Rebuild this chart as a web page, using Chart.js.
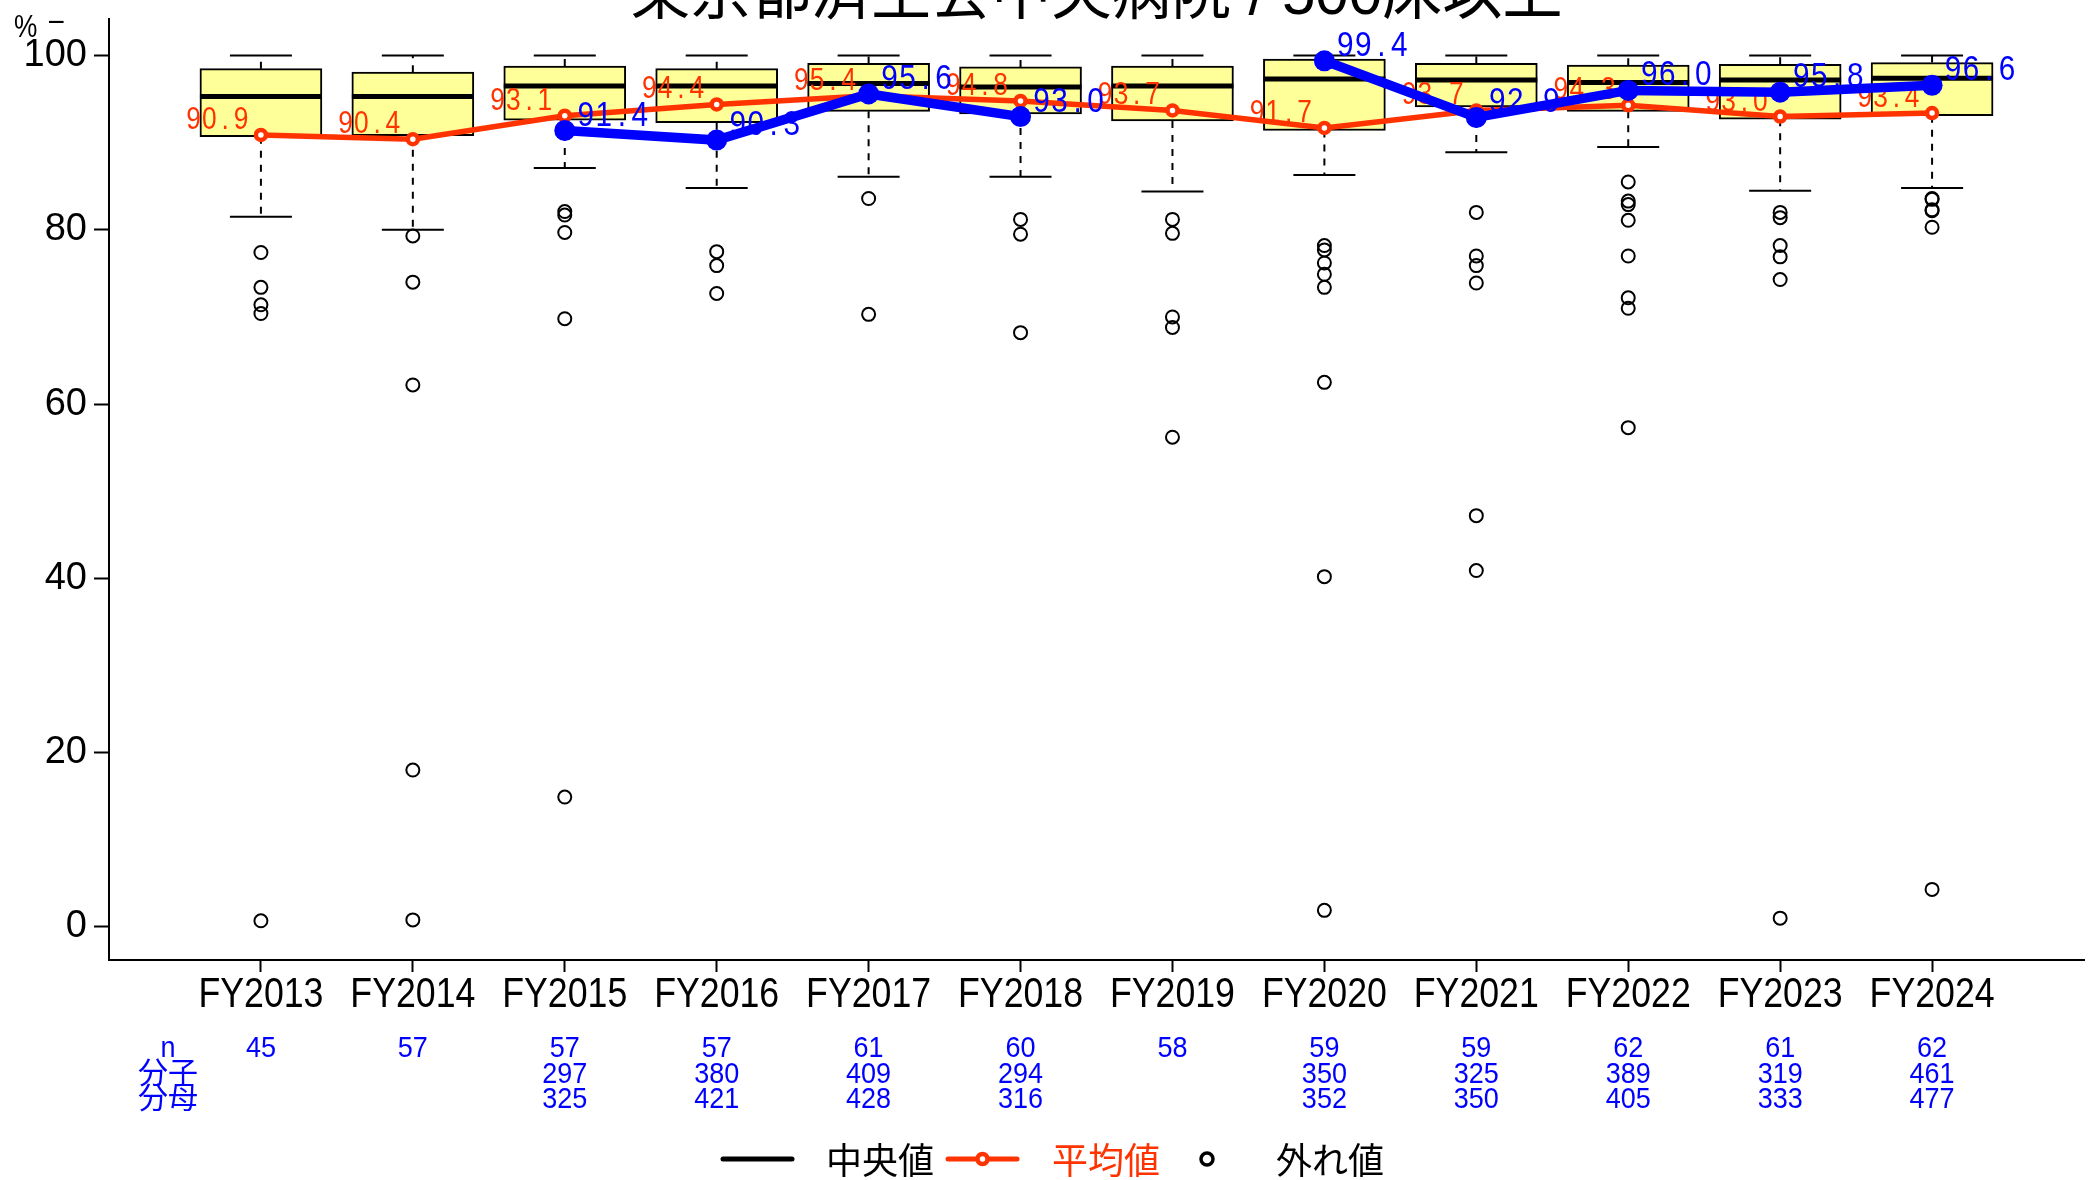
<!DOCTYPE html>
<html>
<head>
<meta charset="utf-8">
<script src="https://cdn.jsdelivr.net/npm/chart.js@4.4.1/dist/chart.umd.min.js"></script>
<style>
  html, body { margin: 0; padding: 0; background: #fff; }
</style>
</head>
<body>
<canvas id="boxChart" width="2089" height="1180"></canvas>
<script>
const years = ["FY2013", "FY2014", "FY2015", "FY2016", "FY2017", "FY2018", "FY2019", "FY2020", "FY2021", "FY2022", "FY2023", "FY2024"];
const upperWhisker = [100, 100, 100, 100, 100, 100, 100, 100, 100, 100, 100, 100];
const upperQuartile = [98.5, 98.1, 98.8, 98.5, 99.1, 98.7, 98.8, 99.6, 99.1, 98.9, 99.0, 99.2];
const medianValues = [95.3, 95.3, 96.5, 96.5, 96.8, 96.4, 96.5, 97.3, 97.2, 96.9, 97.2, 97.4];
const lowerQuartile = [90.7, 90.8, 92.6, 92.3, 93.6, 93.3, 92.5, 91.4, 94.1, 93.6, 92.7, 93.1];
const lowerWhisker = [81.5, 80.0, 87.1, 84.8, 86.1, 86.1, 84.4, 86.3, 88.9, 89.5, 84.5, 84.8];
const outlierValues = [
    [77.4, 73.4, 71.4, 70.4, 0.7],
    [79.3, 74.0, 62.2, 18.0, 0.8],
    [82.1, 81.7, 79.7, 69.8, 14.9],
    [77.5, 75.9, 72.7],
    [83.6, 70.3],
    [81.2, 79.5, 68.2],
    [81.2, 79.6, 70.0, 68.8, 56.2],
    [78.2, 77.7, 76.2, 74.9, 73.4, 62.5, 40.2, 1.9],
    [82.0, 77.0, 75.9, 73.9, 47.2, 40.9],
    [85.5, 83.3, 82.9, 81.1, 77.0, 72.2, 71.0, 57.3],
    [82.0, 81.4, 78.2, 76.9, 74.3, 1.0],
    [83.6, 83.5, 82.3, 82.2, 80.3, 4.3]
];
const meanValues = [90.9, 90.4, 93.1, 94.4, 95.4, 94.8, 93.7, 91.7, 93.7, 94.3, 93.0, 93.4];
const rateValues = [null, null, 91.4, 90.3, 95.6, 93.0, null, 99.4, 92.9, 96.0, 95.8, 96.6];
const nCounts = [45, 57, 57, 57, 61, 60, 58, 59, 59, 62, 61, 62];
const numerators = [null, null, 297, 380, 409, 294, null, 350, 325, 389, 319, 461];
const denominators = [null, null, 325, 421, 428, 316, null, 352, 350, 405, 333, 477];
const yTicks = [0, 20, 40, 60, 80, 100];

const titleText = "東京都済生会中央病院 / 500床以上";
const SANS = '"Liberation Sans", Arial, sans-serif';
const TITLE_FONT = '"Liberation Sans", "Noto Sans CJK JP", sans-serif';
const CJK = '"Noto Sans CJK JP", sans-serif';
const RED = "#ff3300";
const BLUE = "#0000ff";

// whisker stems: q3 -> top, q1 -> bottom, null breaks the line
let stemPoints = [];
years.forEach((_, i) => {
    stemPoints.push({ x: i + 1, y: upperQuartile[i] }, { x: i + 1, y: upperWhisker[i] }, { x: i + 1, y: null });
    stemPoints.push({ x: i + 1, y: lowerQuartile[i] }, { x: i + 1, y: lowerWhisker[i] }, { x: i + 1, y: null });
});
let capPoints = years.map((_, i) => ({ x: i + 1, y: upperWhisker[i] }))
    .concat(years.map((_, i) => ({ x: i + 1, y: lowerWhisker[i] })));
let outlierPoints = [];
outlierValues.forEach((vals, i) => vals.forEach(v => outlierPoints.push({ x: i + 1, y: v })));

// the reference uses a narrow face, so squeeze text horizontally
function narrowText(ctx, str, x, y, sx, align) {
    ctx.save();
    ctx.translate(x, y);
    ctx.scale(sx, 1);
    ctx.textAlign = align;
    ctx.fillText(str, 0, 0);
    ctx.restore();
}

// value labels are spaced in fixed cells
function cellText(ctx, str, x, y, cell, sx, alignRight) {
    let start = alignRight ? x - cell * str.length : x;
    for (let k = 0; k < str.length; k++) {
        narrowText(ctx, str[k], start + cell * (k + 0.5), y, sx, "center");
    }
}

const extras = {
    id: "extras",
    afterDatasetDraw(chart, args) {
        let ds = chart.data.datasets[args.index];
        let ctx = chart.ctx;
        if (ds.label !== "mean" && ds.label !== "rate") return;
        let isMean = ds.label === "mean";
        ctx.save();
        ctx.fillStyle = isMean ? RED : BLUE;
        ctx.font = (isMean ? "31px " : "35px ") + SANS;
        ctx.textBaseline = "alphabetic";
        args.meta.data.forEach((pt, i) => {
            let v = isMean ? meanValues[i] : rateValues[i];
            if (v == null) return;
            if (isMean) cellText(ctx, v.toFixed(1), pt.x - 12, pt.y - 6, 15.8, 0.85, true);
            else cellText(ctx, v.toFixed(1), pt.x + 12, pt.y - 5, 18, 0.85, false);
        });
        ctx.restore();
    },
    afterDraw(chart) {
        let ctx = chart.ctx;
        let area = chart.chartArea;
        let xs = chart.scales.x;
        ctx.save();

        // title (top cut off, as in the reference)
        ctx.fillStyle = "#000";
        ctx.font = "62px " + TITLE_FONT;
        ctx.textBaseline = "alphabetic";
        narrowText(ctx, titleText, (area.left + area.right) / 2, 14, 0.97, "center");

        // unit label
        ctx.font = "32px " + SANS;
        narrowText(ctx, "%", 14, 37, 0.82, "left");
        ctx.textBaseline = "middle";
        narrowText(ctx, "–", 49, 21, 0.82, "left");

        // category labels under the axis
        ctx.textBaseline = "alphabetic";
        ctx.font = "43px " + SANS;
        years.forEach((label, i) => {
            narrowText(ctx, label, xs.getPixelForValue(i + 1), 1007, 0.83, "center");
        });

        // n / numerator / denominator rows
        ctx.fillStyle = BLUE;
        let rows = [nCounts, numerators, denominators];
        let rowY = [1057, 1083, 1108];
        ctx.font = "30px " + SANS;
        narrowText(ctx, "n", 168, rowY[0], 0.9, "center");
        ctx.font = "30px " + CJK;
        ctx.textAlign = "center";
        ctx.fillText("分子", 168, rowY[1]);
        ctx.fillText("分母", 168, rowY[2]);
        ctx.font = "30px " + SANS;
        rows.forEach((row, r) => {
            row.forEach((v, i) => {
                if (v == null) return;
                narrowText(ctx, String(v), xs.getPixelForValue(i + 1), rowY[r], 0.9, "center");
            });
        });

        // legend
        let ly = 1159;
        ctx.lineCap = "round";
        ctx.strokeStyle = "#000";
        ctx.lineWidth = 5;
        ctx.beginPath(); ctx.moveTo(723, ly); ctx.lineTo(792, ly); ctx.stroke();
        ctx.strokeStyle = RED;
        ctx.lineWidth = 5;
        ctx.beginPath(); ctx.moveTo(948, ly); ctx.lineTo(1017, ly); ctx.stroke();
        ctx.fillStyle = "#fff";
        ctx.lineWidth = 4.5;
        ctx.beginPath(); ctx.arc(982.5, ly, 5, 0, Math.PI * 2); ctx.fill(); ctx.stroke();
        ctx.strokeStyle = "#000";
        ctx.lineWidth = 3.5;
        ctx.beginPath(); ctx.arc(1207, ly, 6, 0, Math.PI * 2); ctx.stroke();

        ctx.font = "36px " + CJK;
        ctx.textAlign = "left";
        ctx.textBaseline = "middle";
        ctx.fillStyle = "#000";
        ctx.fillText("中央値", 826, 1160);
        ctx.fillStyle = RED;
        ctx.fillText("平均値", 1052, 1160);
        ctx.fillStyle = "#000";
        ctx.fillText("外れ値", 1276, 1160);
        ctx.restore();
    }
};

new Chart(document.getElementById("boxChart"), {
    type: "scatter",
    data: {
        datasets: [
            {
                label: "rate",
                type: "line",
                data: years.map((_, i) => ({ x: i + 1, y: rateValues[i] })),
                borderColor: BLUE,
                borderWidth: 9.5,
                pointRadius: 10.5,
                pointBackgroundColor: BLUE,
                pointBorderColor: BLUE,
                pointBorderWidth: 0,
                spanGaps: false,
                order: 1
            },
            {
                label: "mean",
                type: "line",
                data: years.map((_, i) => ({ x: i + 1, y: meanValues[i] })),
                borderColor: RED,
                borderWidth: 5.5,
                pointRadius: 5,
                pointBorderWidth: 4.5,
                pointBackgroundColor: "#fff",
                pointBorderColor: RED,
                order: 2
            },
            {
                label: "outliers",
                data: outlierPoints,
                pointStyle: "circle",
                pointRadius: 6.5,
                pointBorderWidth: 2,
                pointBorderColor: "#000",
                pointBackgroundColor: "rgba(0,0,0,0)",
                order: 3
            },
            {
                label: "median",
                data: years.map((_, i) => ({ x: i + 1, y: medianValues[i] })),
                pointStyle: "line",
                pointRadius: 61,
                pointBorderWidth: 5,
                pointBorderColor: "#000",
                order: 4
            },
            {
                label: "caps",
                data: capPoints,
                pointStyle: "line",
                pointRadius: 31,
                pointBorderWidth: 2,
                pointBorderColor: "#000",
                order: 5
            },
            {
                label: "stems",
                data: stemPoints,
                showLine: true,
                borderColor: "#000",
                borderWidth: 2,
                borderDash: [7, 7],
                pointRadius: 0,
                spanGaps: false,
                order: 6
            },
            {
                label: "box",
                type: "bar",
                data: years.map((_, i) => ({ x: i + 1, y: [lowerQuartile[i], upperQuartile[i]] })),
                backgroundColor: "#ffff99",
                borderColor: "#000",
                borderWidth: 2,
                borderSkipped: false,
                barThickness: 122,
                order: 7
            }
        ]
    },
    options: {
        responsive: false,
        animation: false,
        events: [],
        layout: { autoPadding: false, padding: { top: 19, right: 5, left: 0, bottom: 0 } },
        plugins: { legend: { display: false }, tooltip: { enabled: false } },
        scales: {
            x: {
                type: "linear",
                min: 0,
                max: 13,
                offset: false,
                afterBuildTicks: s => { s.ticks = years.map((_, i) => ({ value: i + 1 })); },
                afterFit: s => { s.height = 220; },
                ticks: { display: false },
                grid: { offset: false, drawOnChartArea: false, tickLength: 12, tickWidth: 2, tickColor: "#000" },
                border: { display: true, color: "#000", width: 2 }
            },
            y: {
                type: "linear",
                min: -3.8,
                max: 104.2,
                afterBuildTicks: s => { s.ticks = yTicks.map(v => ({ value: v })); },
                afterFit: s => { s.width = 109; },
                ticks: {
                    font: { family: SANS, size: 38, lineHeight: 0.3 },
                    color: "#000",
                    padding: 7
                },
                grid: { drawOnChartArea: false, tickLength: 15, tickWidth: 2, tickColor: "#000" },
                border: { display: true, color: "#000", width: 2 }
            }
        }
    },
    plugins: [extras]
});
</script>
</body>
</html>
